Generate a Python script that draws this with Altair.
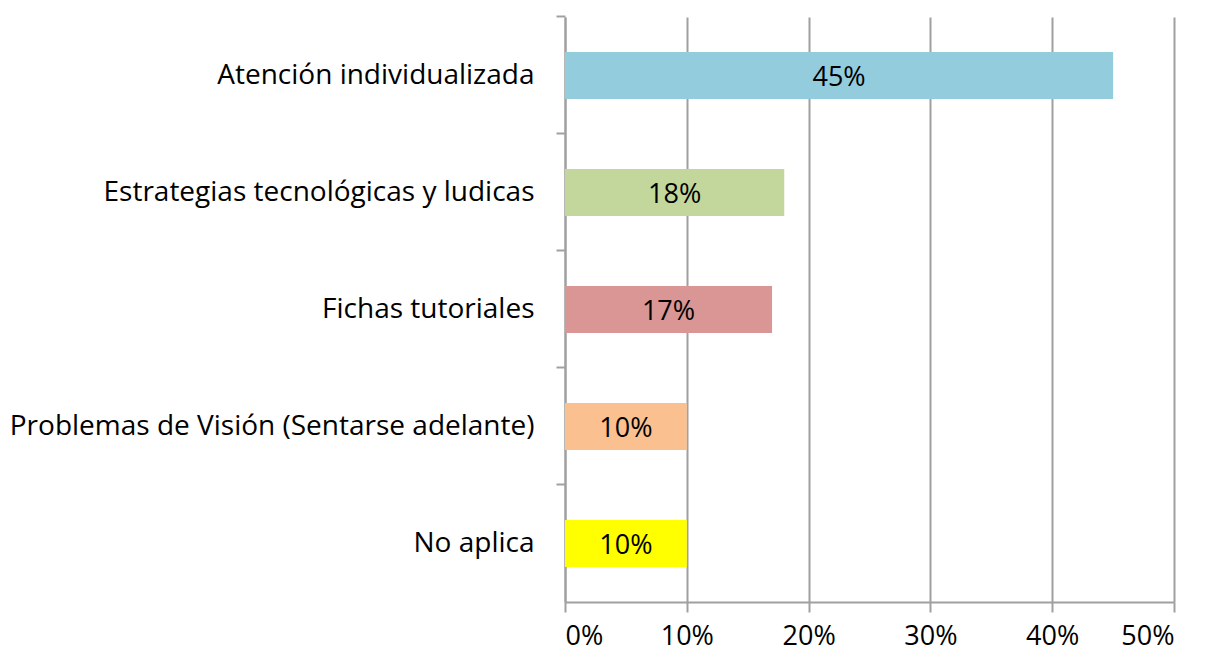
import altair as alt
import pandas as pd

categories = [
    "Atención individualizada",
    "Estrategias tecnológicas y ludicas",
    "Fichas tutoriales",
    "Problemas de Visión (Sentarse adelante)",
    "No aplica",
]
values = [0.45, 0.18, 0.17, 0.10, 0.10]
bar_labels = ["45%", "18%", "17%", "10%", "10%"]
colors = ["#93CDDD", "#C3D69B", "#D99694", "#FAC090", "#FFFF00"]
x_ticks = [0, 0.1, 0.2, 0.3, 0.4, 0.5]

df = pd.DataFrame({"cat": categories, "val": values, "lab": bar_labels})

FONT = "Open Sans"
FS = 28
GRID = "#a0a0a0"

y_enc = alt.Y(
    "cat:N",
    sort=categories,
    scale=alt.Scale(paddingInner=0.6, paddingOuter=0.3),
    axis=alt.Axis(
        title=None,
        labelFont=FONT,
        labelFontSize=FS,
        labelColor="#000000",
        labelPadding=22,
        tickSize=9,
        tickColor=GRID,
        tickWidth=2,
        domainColor=GRID,
        domainWidth=2,
        bandPosition=-0.75,
        labelLimit=600,
        grid=False,
    ),
)

x_enc = alt.X(
    "val:Q",
    scale=alt.Scale(domain=[0, 0.5], nice=False),
    axis=alt.Axis(
        title=None,
        values=x_ticks,
        format=".0%",
        labelFont=FONT,
        labelFontSize=27,
        labelColor="#000000",
        labelPadding=11,
        tickSize=10,
        tickColor=GRID,
        tickWidth=2,
        domainColor=GRID,
        domainWidth=2,
        grid=True,
        gridColor=GRID,
        gridWidth=2,
    ),
)

bars = alt.Chart(df).mark_bar().encode(
    y=y_enc,
    x=x_enc,
    color=alt.Color("cat:N", scale=alt.Scale(domain=categories, range=colors), legend=None),
)

text = alt.Chart(df).transform_calculate(half="datum.val / 2").mark_text(
    font=FONT, fontSize=27, color="#000000", baseline="middle", align="center", dy=2
).encode(
    y=alt.Y("cat:N", sort=categories),
    x=alt.X("half:Q"),
    text="lab:N",
)

chart = alt.layer(bars, text).properties(
    width=609,
    height=585,
    autosize=alt.AutoSizeParams(type="none"),
    padding={"left": 557, "top": 9, "right": 20, "bottom": 45},
).configure_view(stroke=None)

chart.save("out.html", embed_options={"renderer": "svg", "actions": False})
